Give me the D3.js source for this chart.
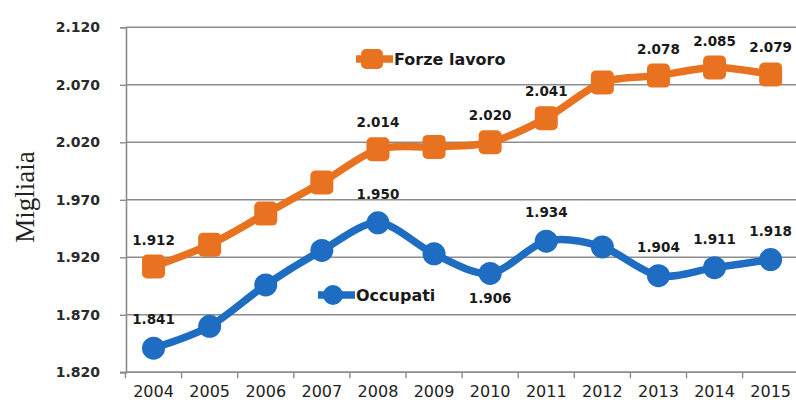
<!DOCTYPE html>
<html>
<head>
    <meta charset="utf-8">
    <style>
        body {
            margin: 0;
            background: #fff;
        }
        svg {
            display: block;
            font-family: 'DejaVu Sans', sans-serif;
        }
    </style>
</head>
<body>
    <svg width="796" height="402"></svg>

<script src="https://d3js.org/d3.v7.min.js"></script>
<script>
    // values in thousands ("Migliaia")
    let years = [2004, 2005, 2006, 2007, 2008, 2009, 2010, 2011, 2012, 2013, 2014, 2015];
    let forzeLavoro = [1912, 1931, 1958, 1985, 2014, 2016, 2020, 2041, 2072, 2078, 2085, 2079];
    let occupati = [1841, 1860, 1896, 1926, 1950, 1923, 1906, 1934, 1929, 1904, 1911, 1918];
    let yTicks = [1820, 1870, 1920, 1970, 2020, 2070, 2120];

    // which points carry a value label, and which labels go under the point
    let forzeLabelYears = [2004, 2008, 2010, 2011, 2013, 2014, 2015];
    let occLabelYears = [2004, 2008, 2010, 2011, 2013, 2014, 2015];
    let occBelowYears = [2010];

    let orange = "#e8721f";
    let blue = "#1f6dc2";
    let gridColor = "#8c8c8c";

    let it = d3.formatLocale({ decimal: ",", thousands: ".", grouping: [3], currency: ["€", ""] });
    let fmt = it.format(",d");

    let svg = d3.select("svg");

    let x = d3.scaleBand()
        .domain(years)
        .range([125.5, 798.7])
        .padding(0);

    let y = d3.scaleLinear()
        .domain([1820, 2120])
        .range([372.3, 27.3]);

    let cx = d => x(d) + x.bandwidth() / 2;

    // gridlines
    svg.append("g")
        .selectAll("line")
        .data(yTicks)
        .join("line")
        .attr("x1", 126)
        .attr("x2", 796)
        .attr("y1", d => y(d))
        .attr("y2", d => y(d))
        .style("stroke", gridColor)
        .style("stroke-width", 1.6);

    // y axis
    let yAxis = svg.append("g")
        .attr("transform", "translate(126,0)")
        .call(d3.axisLeft(y)
            .tickValues(yTicks)
            .tickSize(6)
            .tickPadding(20)
            .tickFormat(fmt));
    yAxis.select(".domain").style("stroke", gridColor).style("stroke-width", 1.6);
    yAxis.selectAll(".tick line").style("stroke", gridColor).style("stroke-width", 1.4);
    yAxis.selectAll("text")
        .style("font-family", "'DejaVu Sans', sans-serif")
        .style("font-size", "14px")
        .style("font-weight", "bold")
        .style("fill", "#2a2a2a");

    // x axis
    let xAxis = svg.append("g")
        .attr("transform", "translate(0,372.3)")
        .call(d3.axisBottom(x).tickSize(0).tickPadding(13));
    xAxis.select(".domain").remove();
    xAxis.selectAll("text")
        .style("font-family", "'DejaVu Sans', sans-serif")
        .style("font-size", "16px")
        .style("fill", "#222");
    xAxis.append("line")
        .attr("x1", 120)
        .attr("x2", 796)
        .style("stroke", gridColor)
        .style("stroke-width", 1.6);
    xAxis.selectAll(".sep")
        .data(years)
        .join("line")
        .attr("class", "sep")
        .attr("x1", d => x(d))
        .attr("x2", d => x(d))
        .attr("y1", 0)
        .attr("y2", 6)
        .style("stroke", gridColor)
        .style("stroke-width", 1.4);

    // y title
    svg.append("text")
        .attr("transform", "translate(34,197) rotate(-90)")
        .attr("text-anchor", "middle")
        .style("font-family", "'Liberation Serif', serif")
        .style("font-size", "27px")
        .style("fill", "#222")
        .text("Migliaia");

    let line = d3.line()
        .x((d, i) => cx(years[i]))
        .y(d => y(d))
        .curve(d3.curveCardinal.tension(0.1));

    // Occupati
    svg.append("path")
        .attr("d", line(occupati))
        .style("fill", "none")
        .style("stroke", blue)
        .style("stroke-width", 7.5)
        .style("stroke-linejoin", "round");

    svg.selectAll(".occ")
        .data(occupati)
        .join("circle")
        .attr("class", "occ")
        .attr("cx", (d, i) => cx(years[i]))
        .attr("cy", d => y(d))
        .attr("r", 11.5)
        .style("fill", blue);

    // Forze lavoro
    svg.append("path")
        .attr("d", line(forzeLavoro))
        .style("fill", "none")
        .style("stroke", orange)
        .style("stroke-width", 7.5)
        .style("stroke-linejoin", "round");

    svg.selectAll(".fl")
        .data(forzeLavoro)
        .join("rect")
        .attr("class", "fl")
        .attr("x", (d, i) => cx(years[i]) - 11.5)
        .attr("y", d => y(d) - 12)
        .attr("width", 23)
        .attr("height", 24)
        .attr("rx", 5)
        .style("fill", orange);

    // value labels
    let labelStyle = sel => sel
        .attr("text-anchor", "middle")
        .style("font-family", "'DejaVu Sans', sans-serif")
        .style("font-size", "13.5px")
        .style("font-weight", "bold")
        .style("fill", "#1a1a1a");

    svg.selectAll(".fl-label")
        .data(years.map((yr, i) => ({ yr, v: forzeLavoro[i] })).filter(d => forzeLabelYears.includes(d.yr)))
        .join("text")
        .attr("class", "fl-label")
        .attr("x", d => cx(d.yr))
        .attr("y", d => y(d.v) - 22)
        .call(labelStyle)
        .text(d => fmt(d.v));

    svg.selectAll(".occ-label")
        .data(years.map((yr, i) => ({ yr, v: occupati[i] })).filter(d => occLabelYears.includes(d.yr)))
        .join("text")
        .attr("class", "occ-label")
        .attr("x", d => cx(d.yr))
        .attr("y", d => occBelowYears.includes(d.yr) ? y(d.v) + 30 : y(d.v) - 24)
        .call(labelStyle)
        .text(d => fmt(d.v));

    // legends inside the plot
    let legend = [
        { name: "Forze lavoro", color: orange, shape: "rect", x: 356, y: 59 },
        { name: "Occupati", color: blue, shape: "circle", x: 318, y: 295 }
    ];

    let lg = svg.selectAll(".legend")
        .data(legend)
        .join("g")
        .attr("class", "legend")
        .attr("transform", d => "translate(" + d.x + "," + d.y + ")");

    lg.append("line")
        .attr("x1", 0)
        .attr("x2", 37)
        .style("stroke", d => d.color)
        .style("stroke-width", 7.5);

    lg.filter(d => d.shape == "rect")
        .append("rect")
        .attr("x", 5)
        .attr("y", -10)
        .attr("width", 22)
        .attr("height", 20)
        .attr("rx", 5)
        .style("fill", d => d.color);

    lg.filter(d => d.shape == "circle")
        .append("circle")
        .attr("cx", 15)
        .attr("r", 10)
        .style("fill", d => d.color);

    lg.append("text")
        .attr("x", 38)
        .attr("y", 6)
        .style("font-family", "'DejaVu Sans', sans-serif")
        .style("font-size", "16px")
        .style("font-weight", "bold")
        .style("fill", "#1a1a1a")
        .text(d => d.name);
</script>
</body>
</html>
